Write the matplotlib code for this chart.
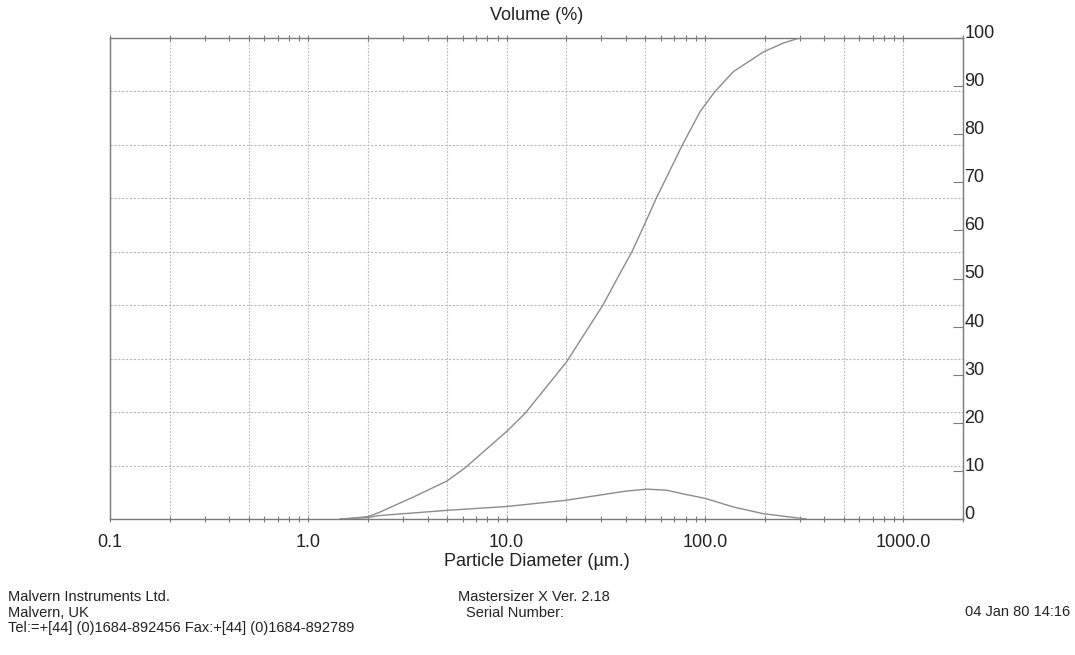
import numpy as np
import matplotlib
matplotlib.use("Agg")
import matplotlib.pyplot as plt

plt.rcParams['font.family'] = ['Liberation Sans', 'DejaVu Sans']

# cumulative volume undersize (%), right-hand scale
size_cum = [1.45, 1.7, 2.0, 2.26, 2.4, 3.4, 5.0, 6.2, 10.0, 12.4, 20.0, 30.5,
            36.0, 43.0, 49.0, 57.0, 77.0, 94.5, 112.0, 139.0, 197.0, 250.0, 300.0, 600.0]
cum_vol = [0.0, 0.2, 0.5, 1.3, 1.8, 4.6, 7.9, 10.7, 18.2, 22.0, 32.6, 44.4,
           49.9, 55.7, 60.8, 66.8, 77.8, 84.7, 88.8, 93.0, 97.1, 99.0, 100.0, 100.0]

# volume frequency curve
size_freq = [1.45, 2.0, 2.26, 5.0, 10.0, 20.0, 32.0, 40.0, 51.0, 64.0, 78.0, 100.0,
             139.0, 197.0, 258.0, 324.0]
freq_vol = [0.0, 0.3, 0.7, 1.8, 2.6, 3.9, 5.2, 5.8, 6.2, 6.0, 5.2, 4.3,
            2.5, 1.1, 0.5, 0.0]

x_ticks = [0.1, 1.0, 10.0, 100.0, 1000.0]
x_labels = ["0.1", "1.0", "10.0", "100.0", "1000.0"]
y_ticks = list(range(0, 101, 10))
x_grid = [0.2, 0.5, 1, 2, 5, 10, 20, 50, 100, 200, 500, 1000]
y_grid = np.linspace(0, 100, 10)[1:-1]

frame_col = "#7a7a7a"
grid_col = "#b8b8b8"
curve_col = "#8c8c8c"
text_col = "#222222"

fig = plt.figure(figsize=(10.75, 6.55), dpi=100)
ax = fig.add_axes([110 / 1075, 1 - 519 / 655, 853 / 1075, 481 / 655])

for gx in x_grid:
    ax.axvline(gx, color=grid_col, lw=0.8, ls=(0, (1.5, 1.5)), zorder=1)
for gy in y_grid:
    ax.axhline(gy, color=grid_col, lw=0.8, ls=(0, (2, 1.5)), zorder=1)

ax.plot(size_cum, cum_vol, color=curve_col, lw=1.0, zorder=3)
ax.plot(size_freq, freq_vol, color=curve_col, lw=1.0, zorder=3)

ax.set_xscale("log")
ax.set_xlim(0.1, 2000)
ax.set_ylim(0, 100)

ax.set_xticks(x_ticks)
ax.set_xticklabels(x_labels)
ax.xaxis.set_minor_locator(matplotlib.ticker.LogLocator(base=10, subs=np.arange(2, 10)))
ax.xaxis.set_minor_formatter(matplotlib.ticker.NullFormatter())
ax.tick_params(axis="x", which="both", direction="inout", length=5, width=0.8,
               color=frame_col, top=True, bottom=True)
ax.tick_params(axis="x", which="major", labelsize=13, labelcolor=text_col, pad=8)

ax.yaxis.tick_right()
ax.set_yticks(y_ticks)
ax.tick_params(axis="y", direction="in", length=7, width=0.8, color=frame_col,
               labelsize=13, labelcolor=text_col, pad=1, left=False, right=True)
for lab in ax.get_yticklabels():
    lab.set_va("baseline")

for sp in ax.spines.values():
    sp.set_color(frame_col)
    sp.set_linewidth(1.0)

ax.set_title("Volume (%)", fontsize=13, color=text_col, pad=13)
ax.set_xlabel("Particle Diameter (\u00b5m.)", fontsize=13, color=text_col, labelpad=2)

fig.text(8 / 1075, 1 - 597 / 655, "Malvern Instruments Ltd.", fontsize=10.5,
         color=text_col, va="center")
fig.text(8 / 1075, 1 - 613 / 655, "Malvern, UK", fontsize=10.5,
         color=text_col, va="center")
fig.text(8 / 1075, 1 - 628 / 655, "Tel:=+[44] (0)1684-892456 Fax:+[44] (0)1684-892789",
         fontsize=10.5, color=text_col, va="center")
fig.text(458 / 1075, 1 - 597 / 655, "Mastersizer X Ver. 2.18", fontsize=10.5,
         color=text_col, va="center")
fig.text(466 / 1075, 1 - 613 / 655, "Serial Number:", fontsize=10.5,
         color=text_col, va="center")
fig.text(1070 / 1075, 1 - 612 / 655, "04 Jan 80 14:16", fontsize=10.5,
         color=text_col, va="center", ha="right")

fig.savefig("out.png", dpi=100)
